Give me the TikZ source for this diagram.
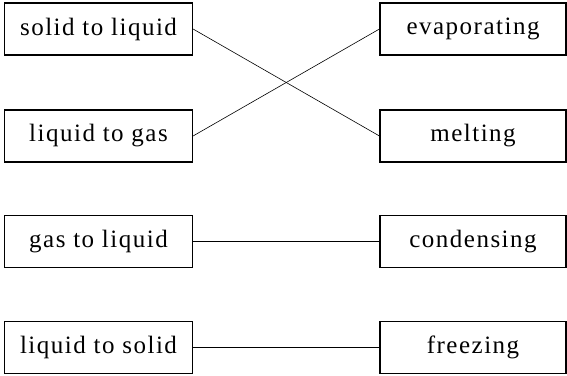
\documentclass[tikz,border=0pt]{standalone}
\usepackage{fontspec}
\setmainfont{Liberation Serif}[LetterSpace=6]
\begin{document}
\begin{tikzpicture}[x=1pt,y=1pt,
  lbox/.style={draw=black,line width=1.1pt,minimum width=188pt,minimum height=52pt,inner sep=0pt,font=\fontsize{25}{28}\selectfont},
  rbox/.style={draw=black,line width=1.1pt,minimum width=186pt,minimum height=52pt,inner sep=0pt,font=\fontsize{25}{28}\selectfont},
  conn/.style={line width=0.6pt}]
\useasboundingbox (0,0) rectangle (567,375);
\node[lbox] (l1) at (98.5,346) {solid to liquid};
\node[lbox] (l2) at (98.5,239) {liquid to gas};
\node[lbox] (l3) at (98.5,133.5) {gas to liquid};
\node[lbox] (l4) at (98.5,27.5) {liquid to solid};
\node[rbox] (r1) at (473,346) {evaporating};
\node[rbox] (r2) at (473,239) {melting};
\node[rbox] (r3) at (473,133.5) {condensing};
\node[rbox] (r4) at (473,27.5) {freezing};
\draw[conn] (l1.east) -- (r2.west);
\draw[conn] (l2.east) -- (r1.west);
\draw[conn] (l3.east) -- (r3.west);
\draw[conn] (l4.east) -- (r4.west);
\end{tikzpicture}
\end{document}
